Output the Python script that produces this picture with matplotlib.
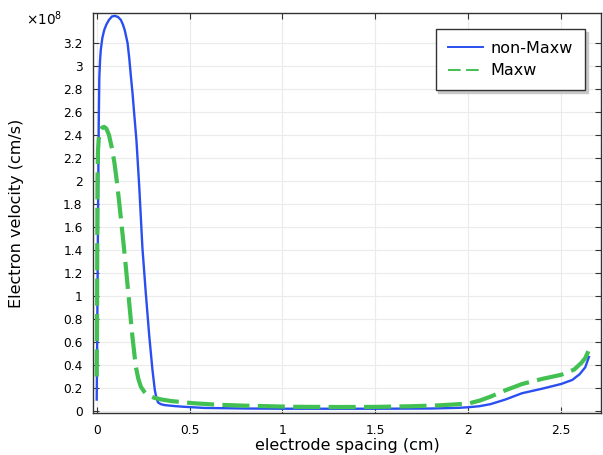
import matplotlib
matplotlib.use("Agg")
import matplotlib.pyplot as plt
from matplotlib.ticker import MultipleLocator, FuncFormatter
from matplotlib.lines import Line2D

# Data (velocity in units of 1e8 cm/s)
x_nonmaxw = [0.0, 0.002, 0.005, 0.008, 0.011, 0.014, 0.018, 0.022, 0.03, 0.04, 0.052,
             0.066, 0.082, 0.099, 0.115, 0.13, 0.141, 0.151, 0.166, 0.175, 0.184,
             0.193, 0.20, 0.214, 0.229, 0.246, 0.264, 0.283, 0.30, 0.313, 0.322,
             0.33, 0.345, 0.364, 0.42, 0.47, 0.58, 0.8, 1.0, 1.5, 1.8, 1.95, 2.0,
             2.06, 2.12, 2.2, 2.29, 2.4, 2.5, 2.56, 2.6, 2.63, 2.65]
v_nonmaxw = [0.10, 0.5, 1.2, 1.9, 2.5, 2.9, 3.05, 3.14, 3.24, 3.31, 3.36,
             3.40, 3.43, 3.435, 3.425, 3.40, 3.36, 3.31, 3.20, 3.07, 2.91,
             2.76, 2.62, 2.35, 1.95, 1.42, 1.03, 0.65, 0.36, 0.18, 0.11,
             0.075, 0.06, 0.052, 0.043, 0.037, 0.027, 0.022, 0.02, 0.02, 0.022, 0.028, 0.033,
             0.042, 0.06, 0.1, 0.155, 0.195, 0.235, 0.27, 0.32, 0.38, 0.47]

x_maxw = [0.0, 0.002, 0.003, 0.004, 0.007, 0.012, 0.02, 0.03, 0.04, 0.052, 0.066,
          0.084, 0.096, 0.108, 0.122, 0.135, 0.146, 0.157, 0.175, 0.192, 0.21,
          0.224, 0.238, 0.255, 0.274, 0.31, 0.35, 0.4, 0.52, 0.65, 0.79, 1.06,
          1.3, 1.5, 1.7, 1.85, 2.0, 2.06, 2.12, 2.2, 2.29, 2.4, 2.5, 2.57, 2.61,
          2.63, 2.647]
v_maxw = [0.3, 0.8, 1.5, 2.0, 2.27, 2.39, 2.44, 2.465, 2.47, 2.455, 2.40,
          2.27, 2.15, 2.0, 1.8, 1.6, 1.43, 1.25, 0.94, 0.65, 0.39,
          0.28, 0.21, 0.17, 0.14, 0.115, 0.1, 0.087, 0.068, 0.055, 0.047, 0.037,
          0.035, 0.036, 0.042, 0.05, 0.065, 0.09, 0.125, 0.18, 0.235, 0.28, 0.315, 0.36, 0.42,
          0.46, 0.52]

labels = ["non-Maxw", "Maxw"]
xlabel = "electrode spacing (cm)"
ylabel = "Electron velocity (cm/s)"

blue = "#2a4ff0"
green = "#42c052"

fig = plt.figure(figsize=(6.03, 4.55), dpi=100)
ax = fig.add_axes([93/603, 42/455, 508/603, 400/455])

ax.plot(x_nonmaxw, v_nonmaxw, color=blue, lw=1.7, solid_joinstyle="round")
ax.plot(x_maxw, v_maxw, color=green, lw=3.0, dashes=(6.5, 2.0), dash_joinstyle="round")

ax.set_xlim(-0.02, 2.715)
ax.set_ylim(-0.017, 3.46)
ax.xaxis.set_major_locator(MultipleLocator(0.5))
fmt = FuncFormatter(lambda v, p: "%g" % round(v, 2))
ax.xaxis.set_major_formatter(fmt)
ax.yaxis.set_major_formatter(fmt)
ax.set_yticks([i * 0.2 for i in range(17)])

ax.grid(True, color="#ebebeb", lw=0.8)
ax.set_axisbelow(True)
ax.tick_params(direction="in", top=True, right=True, labelsize=8.8, length=4,
               color="#333333")
ax.tick_params(axis="x", pad=8.0)
ax.tick_params(axis="y", pad=7.5)
for s in ax.spines.values():
    s.set_color("#333333")
    s.set_linewidth(1.0)

ax.set_xlabel(xlabel, fontsize=11.5, labelpad=0.8)
ax.set_ylabel(ylabel, fontsize=11.5, labelpad=28)

fig.text(26/603, 1 - 25/455, r"$\times10^{8}$", fontsize=9.8, ha="left", va="baseline")

handles = [Line2D([], [], color=blue, lw=1.4),
           Line2D([], [], color=green, lw=1.4, dashes=(6.5, 2.8))]
leg = ax.legend(handles, labels, loc="upper right", fontsize=11.5, fancybox=False,
                shadow={"color": "#c8c8c8", "alpha": 1}, edgecolor="#333333",
                framealpha=1, borderaxespad=1.0, handlelength=2.2,
                handletextpad=0.5, borderpad=0.75, labelspacing=0.45)
leg.get_frame().set_linewidth(1.0)

fig.savefig("out.png", dpi=100)
